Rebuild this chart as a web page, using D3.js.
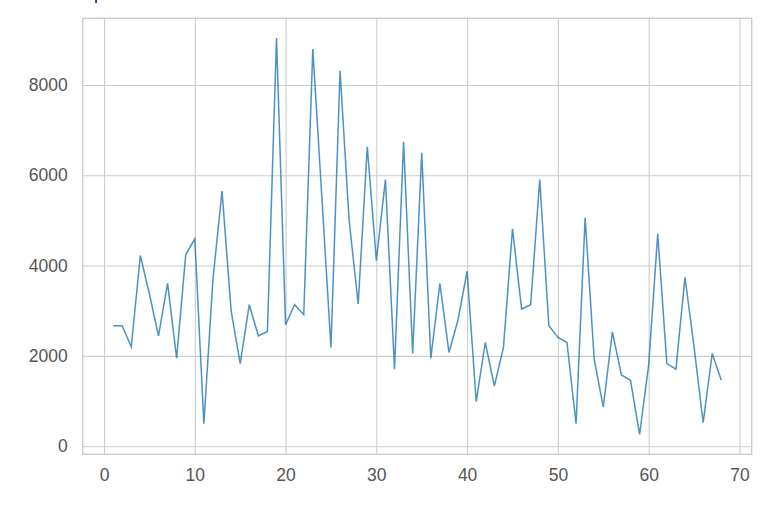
<!DOCTYPE html>
<html>
<head>
<meta charset="utf-8">
<script src="https://cdn.jsdelivr.net/npm/d3@7"></script>
<style>
  body { margin: 0; background: #fff; }
  svg { display: block; }
</style>
</head>
<body>
<svg id="chart" width="782" height="514"></svg>
<script>
// ---- data ----
const xValues = d3.range(1, 69);
const yValues = [
  2667, 2667, 2200, 4222, 3370, 2444, 3607, 1948, 4244, 4593,
  496, 3700, 5652, 3000, 1830, 3133, 2444, 2541, 9037, 2689,
  3133, 2911, 8793, 5500, 2185, 8319, 5000, 3148, 6630, 4111,
  5904, 1704, 6741, 2052, 6496, 1948, 3607, 2074, 2800, 3874,
  985, 2296, 1333, 2185, 4815, 3037, 3133, 5904, 2667, 2407,
  2296, 496, 5059, 1926, 867, 2533, 1578, 1459, 259, 1800,
  4704, 1830, 1704, 3741, 2200, 519, 2052, 1459
];
const xTicks = [0, 10, 20, 30, 40, 50, 60, 70];
const yTicks = [0, 2000, 4000, 6000, 8000];

const data = xValues.map((x, i) => ({ x: x, y: yValues[i] }));

// ---- layout ----
const svg = d3.select("#chart");
const L = 82.7, R = 751.7, T = 18.3, B = 454.3;

const xMin = d3.min(xValues), xMax = d3.max(xValues);
const xPad = (xMax - xMin) * 0.05;
const yMin = d3.min(yValues), yMax = d3.max(yValues);
const yPad = (yMax - yMin) * 0.05;

const x = d3.scaleLinear().domain([xMin - xPad, xMax + xPad]).range([L, R]);
const y = d3.scaleLinear().domain([yMin - yPad, yMax + yPad]).range([B, T]);

const gridColor = "#cccccc";
const textColor = "#555555";
const font = "'Liberation Sans', Arial, sans-serif";

// cut-off title remnant at top (only its descender is visible)
svg.append("text")
  .attr("x", 94).attr("y", -1)
  .attr("font-family", font).attr("font-size", 18)
  .attr("fill", "#222")
  .text("p");

// grid
const gx = svg.append("g")
  .attr("transform", `translate(0,${B})`)
  .call(d3.axisBottom(x).tickValues(xTicks).tickSize(-(B - T)).tickPadding(14).tickFormat(d3.format("d")));
const gy = svg.append("g")
  .attr("transform", `translate(${L},0)`)
  .call(d3.axisLeft(y).tickValues(yTicks).tickSize(-(R - L)).tickPadding(15).tickFormat(d3.format("d")));

[gx, gy].forEach(g => {
  g.select(".domain").remove();
  g.selectAll(".tick line").attr("stroke", gridColor).attr("stroke-width", 1.1);
  g.selectAll(".tick text")
    .attr("fill", textColor)
    .attr("font-family", font)
    .attr("font-size", 17.5);
});
gx.selectAll(".tick text").attr("dy", "0.71em");

// frame
svg.append("rect")
  .attr("x", L).attr("y", T)
  .attr("width", R - L).attr("height", B - T)
  .attr("fill", "none")
  .attr("stroke", gridColor)
  .attr("stroke-width", 1.4);

// line
const line = d3.line().x(d => x(d.x)).y(d => y(d.y));
svg.append("path")
  .datum(data)
  .attr("d", line)
  .attr("fill", "none")
  .attr("stroke", "#1f77b4")
  .attr("stroke-opacity", 0.8)
  .attr("stroke-width", 1.5)
  .attr("stroke-linejoin", "miter");
</script>
</body>
</html>
